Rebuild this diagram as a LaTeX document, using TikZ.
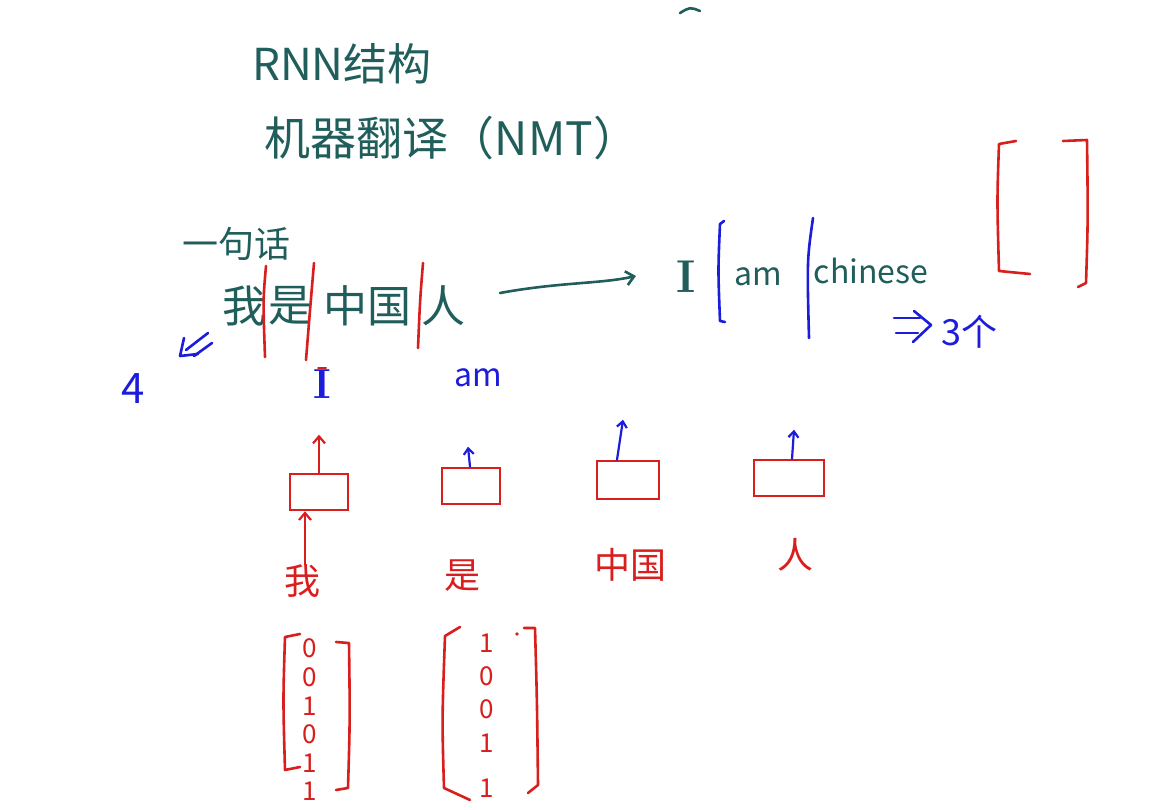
\documentclass[tikz,border=0pt]{standalone}
\usepackage{fontspec}
\newfontfamily\cjk{Noto Sans CJK SC}
\usetikzlibrary{arrows.meta}
\definecolor{inkT}{HTML}{1F5E5A}
\definecolor{inkR}{HTML}{D91E1E}
\definecolor{inkB}{HTML}{1C1CDB}
\begin{document}
\begin{tikzpicture}[x=1pt,y=-1pt,
  txt/.style={inner sep=0pt, outer sep=0pt},
  tT/.style={txt, text=inkT},
  tR/.style={txt, text=inkR},
  tB/.style={txt, text=inkB},
  f44/.style={font=\cjk\fontsize{44}{48}\selectfont},
  f40/.style={font=\cjk\fontsize{40}{44}\selectfont},
  f36/.style={font=\cjk\fontsize{36}{40}\selectfont},
  f32/.style={font=\cjk\fontsize{32}{36}\selectfont},
  f26/.style={font=\cjk\fontsize{26}{30}\selectfont},
  rline/.style={draw=inkR, line width=2.6pt, line cap=round, line join=round},
  bline/.style={draw=inkB, line width=2.6pt, line cap=round, line join=round},
  tline/.style={draw=inkT, line width=2.6pt, line cap=round, line join=round},
  rnnbox/.style={draw=inkR, line width=2.6pt, minimum width=58pt, minimum height=36pt, inner sep=0pt},
  rarr/.style={draw=inkR, line width=2.2pt, line cap=round, -{Straight Barb[length=7pt,width=12pt]}},
  barr/.style={draw=inkB, line width=2.2pt, line cap=round, -{Straight Barb[length=6pt,width=10pt]}},
  tarr/.style={draw=inkT, line width=2.6pt, line cap=round, -{Straight Barb[length=8pt,width=14pt]}}
]
\useasboundingbox (0,0) rectangle (1155,810);
\fill[white] (0,0) rectangle (1155,810);

% small mark at top
\draw[tline] (680,13) .. controls (690,7) .. (700,11);

% titles
\node[tT,f44] (t1) at (342,64) {RNN结构};
\node[tT,font=\cjk\fontsize{46}{50}\selectfont] (t2) at (452,138) {机器翻译（NMT）};
\node[tT,f36] (t3) at (236,244) {一句话};

% source sentence
\node[tT,f44] (w1) at (244,306) {我};
\node[tT,f44] (w2) at (290,306) {是};
\node[tT,f44] (w3) at (367,306) {中国};
\node[tT,f44] (w4) at (443,306) {人};
\draw[rline] (266,266) .. controls (263,300) .. (265,357);
\draw[rline] (314,263) .. controls (310,310) .. (306,360);
\draw[rline] (423,263) .. controls (420,300) .. (418,348);

% translation arrow
\coordinate (a1) at (500,293);
\coordinate (a2) at (636,276);
\draw[tarr] (a1) .. controls (560,282) and (600,284) .. (a2);

% target sentence
\node[tT,anchor=base,font=\bfseries\fontsize{46}{50}\selectfont] (eI) at (686,292) {I};
\node[tT,f32,anchor=base] (eam) at (758,285) {am};
\node[tT,f32,anchor=base] (ech) at (871,283) {chinese};
\draw[bline] (724,221) -- (720,224) .. controls (718,270) .. (720,321) -- (725,322);
\draw[bline] (813,218) .. controls (807,260) .. (809,338);

% red bracket on the right
\draw[rline] (1016,141) -- (999,144) .. controls (997,200) .. (999,271) -- (1030,274);
\draw[rline] (1063,141) -- (1087,140) .. controls (1088,220) .. (1086,283) -- (1078,287);

% => 3个
\draw[bline] (894,318) -- (920,318);
\draw[bline] (896,333) -- (918,333);
\draw[bline] (914,311) -- (931,325) -- (913,342);
\node[tB,f36] (n3) at (969,332) {3个};

% down-left double arrow and 4
\draw[bline] (208,333) -- (186,350);
\draw[bline] (212,343) -- (194,356);
\draw[bline] (184,338) -- (180,356) -- (198,354);
\node[tB,font=\cjk\fontsize{42}{46}\selectfont] (n4) at (133,389) {4};

% outputs
\node[tB,font=\bfseries\fontsize{42}{46}\selectfont] (oI) at (322,384) {I};
\draw[rline, line width=2pt] (318,368) -- (326,368);
\node[tB,f32,anchor=base] (oam) at (478,386) {am};

% RNN cells
\node[rnnbox] (c1) at (319,492) {};
\node[rnnbox] (c2) at (471,486) {};
\node[rnnbox, minimum width=62pt, minimum height=38pt] (c3) at (628,480) {};
\node[rnnbox, minimum width=70pt] (c4) at (789,478) {};

% inputs
\node[tR,f36] (x1) at (302,581) {我};
\node[tR,f36] (x2) at (462,576) {是};
\node[tR,f36] (x3) at (630,565) {中国};
\node[tR,f36] (x4) at (795,555) {人};

% arrows
\draw[rarr] (c1.north) -- ([yshift=38pt]c1.north) coordinate (c1o);
\draw[rarr] ([xshift=-14pt]c1.south |- x1.north) -- ([xshift=-14pt]c1.south);
\draw[barr] ([xshift=-1pt]c2.north) -- ([xshift=-3pt,yshift=20pt]c2.north);
\draw[barr] ([xshift=-11pt]c3.north) -- ([xshift=-5pt,yshift=40pt]c3.north);
\draw[barr] ([xshift=3pt]c4.north) -- ([xshift=5pt,yshift=29pt]c4.north);

% one-hot vectors
\foreach \v [count=\i] in {0,0,1,0,1,1} {
  \node[tR,f26] (va\i) at (310,{620+28.6*\i}) {\v};
}
\draw[rline] (300,634) -- (285,637) .. controls (283,700) .. (285,770) -- (300,767);
\draw[rline] (336,642) -- (349,643) .. controls (350,720) .. (348,788) -- (336,790);

\foreach \v/\yy [count=\i] in {1/643,0/676,0/709,1/743,1/788} {
  \node[tR,f26] (vb\i) at (487,\yy) {\v};
}
\fill[inkR] (517,634) circle (1.8pt);
\draw[rline] (460,627) -- (445,636) .. controls (442,720) .. (444,788) -- (470,800);
\draw[rline] (524,628) -- (535,628) .. controls (537,700) .. (538,785) -- (528,793);
\end{tikzpicture}
\end{document}
